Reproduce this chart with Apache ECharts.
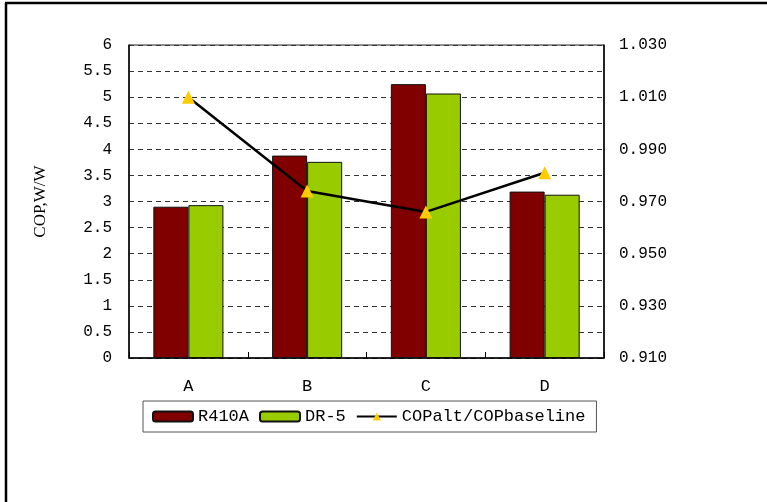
<!DOCTYPE html>
<html>
<head>
<meta charset="utf-8">
<script src="https://cdn.jsdelivr.net/npm/echarts@6/dist/echarts.min.js"></script>
<style>
  html, body { margin: 0; padding: 0; background: #fff; }
  #chart { width: 767px; height: 502px; }
</style>
</head>
<body>
<div id="chart"></div>
<script>
// Operating conditions
const categories = ['A', 'B', 'C', 'D'];
// COP of the baseline refrigerant and of the alternative (W/W)
const copR410A = [2.90, 3.88, 5.25, 3.19];
const copDR5 = [2.93, 3.76, 5.07, 3.13];
// Ratio COPalt / COPbaseline
const copRatio = [1.010, 0.974, 0.966, 0.981];

const monoFont = '"Liberation Mono", "DejaVu Sans Mono", monospace';

const chart = echarts.init(document.getElementById('chart'), null, { renderer: 'canvas' });

chart.setOption({
  backgroundColor: '#ffffff',
  animation: false,
  graphic: [
    { type: 'line', shape: { x1: 6, y1: 3, x2: 6, y2: 502 }, style: { stroke: '#000', lineWidth: 2.5 } },
    { type: 'line', shape: { x1: 5, y1: 3, x2: 767, y2: 3 }, style: { stroke: '#000', lineWidth: 2.5 } }
  ],
  grid: {
    left: 129, right: 163, top: 45, bottom: 144,
    show: true, borderColor: '#222', borderWidth: 1
  },
  legend: {
    left: 143, top: 401,
    width: 458,
    padding: [7, 11, 7, 9],
    itemGap: 10,
    itemWidth: 40,
    itemHeight: 10,
    borderColor: '#555', borderWidth: 1,
    textStyle: { fontFamily: monoFont, fontSize: 17, color: '#000' },
    data: ['R410A', 'DR-5', { name: 'COPalt/COPbaseline' }]
  },
  xAxis: {
    type: 'category',
    data: categories,
    axisLine: { lineStyle: { color: '#000', width: 1.5 } },
    axisTick: { show: true, inside: true, length: 6, lineStyle: { color: '#000' } },
    axisLabel: { margin: 20, fontFamily: monoFont, fontSize: 17, color: '#000' }
  },
  yAxis: [
    {
      type: 'value',
      min: 0, max: 6, interval: 0.5,
      name: 'COP,W/W',
      nameLocation: 'middle',
      nameGap: 80,
      nameTextStyle: { fontFamily: '"Liberation Serif", serif', fontSize: 17, color: '#000' },
      axisLine: { show: true, lineStyle: { color: '#000', width: 1.5 } },
      axisTick: { show: false },
      axisLabel: { margin: 17, fontFamily: monoFont, fontSize: 16, color: '#000' },
      splitLine: { show: true, lineStyle: { color: '#333', type: [5, 4], width: 1 } }
    },
    {
      type: 'value',
      min: 0.91, max: 1.03, interval: 0.01,
      position: 'right',
      axisLine: { show: true, lineStyle: { color: '#000', width: 1.5 } },
      axisTick: { show: false },
      splitLine: { show: false },
      axisLabel: {
        margin: 15, fontFamily: monoFont, fontSize: 16, color: '#000',
        formatter: function (v) {
          const step = Math.round((v - 0.91) / 0.01);
          return step % 2 === 0 ? v.toFixed(3) : '';
        }
      }
    }
  ],
  series: [
    {
      name: 'R410A',
      type: 'bar',
      data: copR410A,
      barGap: '0%',
      barCategoryGap: '41%',
      itemStyle: { color: '#800000', borderColor: '#111', borderWidth: 1 }
    },
    {
      name: 'DR-5',
      type: 'bar',
      data: copDR5,
      itemStyle: { color: '#99CC00', borderColor: '#111', borderWidth: 1 }
    },
    {
      name: 'COPalt/COPbaseline',
      type: 'line',
      yAxisIndex: 1,
      data: copRatio,
      symbol: 'triangle',
      symbolSize: 13,
      itemStyle: { color: '#FFCC00' },
      lineStyle: { color: '#000', width: 2.5 },
      z: 5
    }
  ]
});
</script>
</body>
</html>
